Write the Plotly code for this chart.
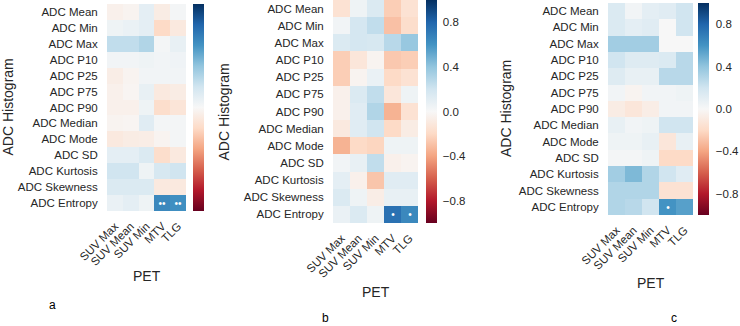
import plotly.graph_objects as go

rows = ["ADC Mean", "ADC Min", "ADC Max", "ADC P10", "ADC P25", "ADC P75", "ADC P90",
        "ADC Median", "ADC Mode", "ADC SD", "ADC Kurtosis", "ADC Skewness", "ADC Entropy"]
cols = ["SUV Max", "SUV Mean", "SUV Min", "MTV", "TLG"]

vals_a = [
    [-0.05, -0.03, 0.10, -0.08, 0.02],
    [0.05, 0.07, 0.10, -0.20, -0.10],
    [0.25, 0.25, 0.30, 0.02, 0.08],
    [0.03, 0.03, 0.05, 0.03, 0.04],
    [-0.07, -0.03, 0.03, 0.03, 0.03],
    [-0.05, -0.02, 0.08, -0.10, -0.08],
    [-0.05, -0.05, 0.05, -0.18, -0.13],
    [-0.03, -0.02, 0.12, 0.02, 0.02],
    [-0.10, -0.08, -0.07, -0.03, 0.02],
    [0.10, 0.10, 0.15, -0.18, -0.10],
    [0.20, 0.20, 0.05, 0.17, 0.20],
    [0.15, 0.15, 0.15, -0.10, -0.10],
    [0.07, 0.10, 0.05, 0.65, 0.62],
]
vals_b = [
    [-0.15, 0.05, 0.15, -0.25, -0.15],
    [0.03, 0.18, 0.25, -0.30, -0.18],
    [0.15, 0.18, 0.17, 0.28, 0.38],
    [-0.25, -0.12, -0.03, -0.27, -0.25],
    [-0.25, -0.03, 0.07, -0.20, -0.15],
    [-0.05, 0.15, 0.25, -0.12, 0.05],
    [-0.05, 0.12, 0.30, -0.35, -0.15],
    [-0.10, 0.12, 0.20, -0.20, -0.08],
    [-0.35, -0.20, -0.22, 0.05, 0.05],
    [0.03, 0.08, 0.25, -0.05, -0.03],
    [0.10, -0.05, -0.28, 0.12, 0.12],
    [0.15, 0.05, -0.07, 0.08, 0.08],
    [0.07, 0.15, 0.05, 0.75, 0.65],
]
vals_c = [
    [0.15, 0.03, 0.10, 0.12, 0.20],
    [0.15, 0.10, 0.12, 0.00, 0.20],
    [0.35, 0.35, 0.35, 0.00, 0.00],
    [0.20, 0.13, 0.13, 0.15, 0.28],
    [0.13, 0.08, 0.08, 0.28, 0.28],
    [0.03, -0.03, 0.03, 0.03, 0.05],
    [-0.08, -0.12, -0.07, 0.03, 0.03],
    [0.08, 0.03, 0.05, 0.20, 0.20],
    [0.05, 0.05, 0.08, -0.12, 0.08],
    [0.02, 0.02, 0.05, -0.20, -0.20],
    [0.35, 0.45, 0.30, 0.20, 0.12],
    [0.30, 0.30, 0.30, -0.15, -0.15],
    [0.30, 0.28, 0.20, 0.60, 0.55],
]

def marks(cells, mark):
    t = [["" for _ in cols] for _ in rows]
    for (r, c) in cells:
        t[r][c] = mark
    return t

text_a = marks([(12, 3), (12, 4)], "••")
text_b = marks([(12, 3), (12, 4)], "•")
text_c = marks([(12, 3)], "•")

cb_ticks = [-0.8, -0.4, 0.0, 0.4, 0.8]
cb_text = ["−0.8", "−0.4", "0.0", "0.4", "0.8"]

RDBU = [
    [0.0, "rgb(103,0,31)"], [0.1, "rgb(178,24,43)"], [0.2, "rgb(214,96,77)"],
    [0.3, "rgb(244,165,130)"], [0.4, "rgb(253,219,199)"], [0.5, "rgb(247,247,247)"],
    [0.6, "rgb(209,229,240)"], [0.7, "rgb(146,197,222)"], [0.8, "rgb(67,147,195)"],
    [0.9, "rgb(33,102,172)"], [1.0, "rgb(5,48,97)"],
]

W, H = 740, 326
FONT = "Liberation Sans, Arial, sans-serif"
TXT = "#262626"
FS = 11.5

panels = [
    (vals_a, text_a, 107, 186, 4, 211, 193, 204, False, 4, 7, 276, "a", 52, 305),
    (vals_b, text_b, 333, 418, 0, 223, 426, 437, True, 4, 223, 292, "b", 325, 318),
    (vals_c, text_c, 608, 693, 3, 215, 698, 709, True, 5, 506, 283, "c", 674, 318),
]

fig = go.Figure()
annotations = []
for i, (z, txt, hx0, hx1, hy0, hy1, cx0, cx1, showlab, cbtl, tx, pety, let, lx, ly) in enumerate(panels):
    k = "" if i == 0 else str(i + 1)
    cb = dict(
        x=cx0 / W, xanchor="left", xpad=0,
        y=1 - hy0 / H, yanchor="top", ypad=0,
        len=hy1 - hy0, lenmode="pixels",
        thickness=cx1 - cx0, thicknessmode="pixels",
        outlinewidth=0, ticks="outside", ticklen=cbtl, tickcolor="rgba(0,0,0,0)",
        tickvals=cb_ticks, ticktext=cb_text,
        showticklabels=showlab,
        tickfont=dict(family=FONT, size=FS, color=TXT),
    )
    fig.add_trace(go.Heatmap(
        z=z, x=cols, y=rows, text=txt, texttemplate="%{text}",
        textfont=dict(color="white", size=10, family=FONT),
        colorscale=RDBU, zmin=-1, zmax=1, colorbar=cb,
        xaxis="x" + k, yaxis="y" + k, xgap=0, ygap=0,
    ))
    fig.layout["xaxis" + k] = dict(
        domain=[hx0 / W, hx1 / W], anchor="y" + k, tickangle=-45, automargin=False,
        showgrid=False, zeroline=False, showline=False,
        ticks="outside", ticklen=3, tickcolor="rgba(0,0,0,0)",
        tickfont=dict(family=FONT, size=FS, color=TXT),
    )
    fig.layout["yaxis" + k] = dict(
        domain=[1 - hy1 / H, 1 - hy0 / H], anchor="x" + k, autorange="reversed",
        automargin=False,
        showgrid=False, zeroline=False, showline=False,
        ticks="outside", ticklen=6, tickcolor="rgba(0,0,0,0)",
        tickfont=dict(family=FONT, size=FS, color=TXT),
    )
    annotations.append(dict(text="ADC Histogram", x=tx / W, y=1 - ((hy0 + hy1) / 2) / H,
                            xref="paper", yref="paper", textangle=-90, showarrow=False,
                            xanchor="center", yanchor="middle",
                            font=dict(family=FONT, size=14, color=TXT)))
    annotations.append(dict(text="PET", x=((hx0 + hx1) / 2) / W, y=1 - pety / H,
                            xref="paper", yref="paper", showarrow=False,
                            xanchor="center", yanchor="middle",
                            font=dict(family=FONT, size=14, color=TXT)))
    annotations.append(dict(text=let, x=lx / W, y=1 - ly / H,
                            xref="paper", yref="paper", showarrow=False,
                            xanchor="center", yanchor="middle",
                            font=dict(family=FONT, size=12, color="#000")))

fig.update_layout(
    width=W, height=H, margin=dict(l=0, r=0, t=0, b=0, autoexpand=False),
    paper_bgcolor="white", plot_bgcolor="white",
    annotations=annotations, showlegend=False,
)
fig.write_html(
    "out.html",
    config={"displayModeBar": False},
    post_script="document.body.style.margin='0';document.body.style.overflow='hidden';",
)
